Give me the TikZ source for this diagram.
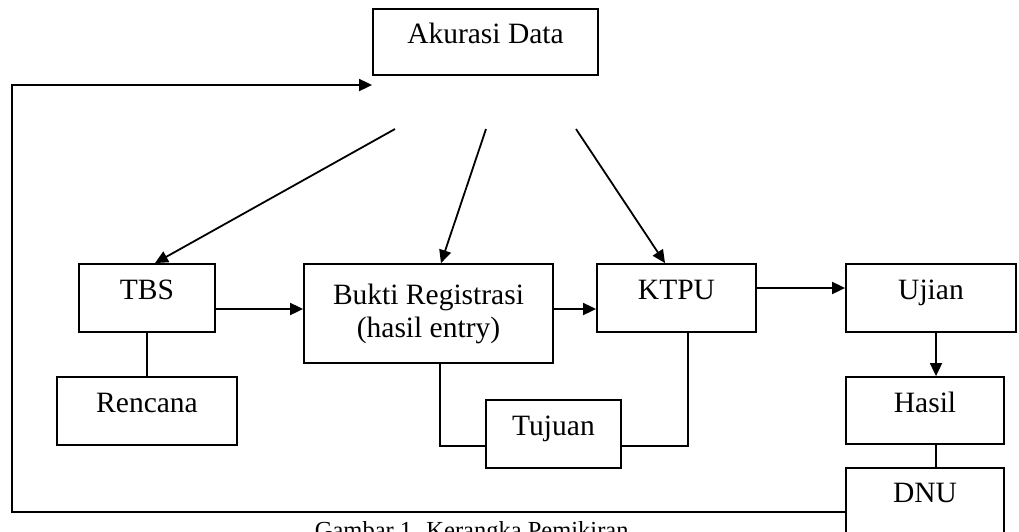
\documentclass[tikz,border=0pt]{standalone}
\usepackage{fontspec}
\setmainfont{Liberation Serif}
\usetikzlibrary{arrows.meta,calc}

\begin{document}
\begin{tikzpicture}[x=1pt,y=-1pt,
  line width=1.8pt,
  every node/.style={font=\fontsize{29.5}{33}\selectfont},
  box/.style={draw, rectangle, inner sep=0pt, line width=1.8pt,
              text height=0.68em, text depth=0.3em},
  twoline/.style={draw, rectangle, inner sep=0pt, line width=1.8pt, align=center},
  arr/.style={-{Triangle[length=13pt,width=12pt]}}
]
\useasboundingbox (0,0) rectangle (1019,531);

% boxes
\node[box, minimum width=225pt, minimum height=66pt] (akurasi) at (485.5,42) {Akurasi Data};
\node[box, minimum width=136pt, minimum height=68pt] (tbs) at (147,298) {TBS};
\node[box, minimum width=180pt, minimum height=68pt] (rencana) at (147,411) {Rencana};
\node[twoline, minimum width=249pt, minimum height=99pt] (bukti) at (428.5,313.5) {Bukti Registrasi\\(hasil entry)};
\node[box, minimum width=159pt, minimum height=68pt] (ktpu) at (676.5,298) {KTPU};
\node[box, minimum width=135pt, minimum height=68pt] (tujuan) at (553.5,434) {Tujuan};
\node[box, minimum width=170pt, minimum height=68pt] (ujian) at (931,298) {Ujian};
\node[box, minimum width=158pt, minimum height=67pt] (hasil) at (925,410.5) {Hasil};
\node[box, minimum width=158pt, minimum height=66pt] (dnu) at (925,501) {DNU};

% caption below the figure
\node[anchor=base west, inner sep=0pt, font=\fontsize{24.5}{28}\selectfont] (caption) at (314,538) {Gambar 1. Kerangka Pemikiran};

% arrows from the data-accuracy block
\coordinate (s1) at (395,129);
\coordinate (s2) at (486,129);
\coordinate (s3) at (576,129);
\draw[arr] (s1) -- ($(tbs.north)+(8,0)$);
\draw[arr] (s2) -- ($(bukti.north)+(12.5,0)$);
\draw[arr] (s3) -- ($(ktpu.north)+(-11.5,0)$);

% main flow
\coordinate (row) at ($(tbs.east)+(0,11)$);
\draw[arr] (row) -- (row -| bukti.west);
\draw[arr] (row -| bukti.east) -- (row -| ktpu.west);
\coordinate (row2) at ($(ktpu.east)+(0,-10)$);
\draw[arr] (row2) -- (row2 -| ujian.west);
\coordinate (col) at (936,0);
\draw[arr] (col |- ujian.south) -- (col |- hasil.north);
\draw (col |- hasil.south) -- (col |- dnu.north);

% side links
\draw (tbs.south) -- (rencana.north);
\coordinate (bt) at (440,446);
\coordinate (kt) at (688,446);
\draw (bt |- bukti.south) -- (bt) -- (bt -| tujuan.west);
\draw (kt -| tujuan.east) -- (kt) -- (kt |- ktpu.south);

% feedback loop
\coordinate (fbl) at (12,512);
\coordinate (fbt) at (12,85);
\draw[arr] (fbl -| dnu.west) -- (fbl) -- (fbt) -- (fbt -| akurasi.west);
\end{tikzpicture}
\end{document}
